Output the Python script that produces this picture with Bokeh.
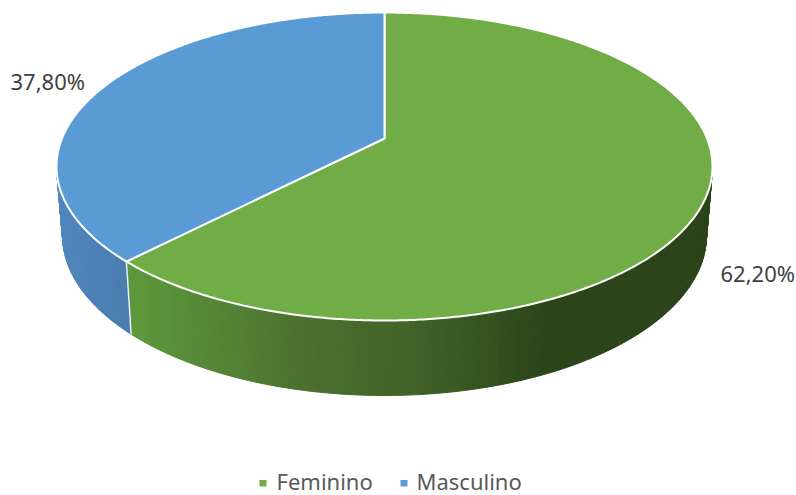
import numpy as np
from bokeh.plotting import figure
from bokeh.models import Range1d
from bokeh.core.properties import value
from bokeh.embed import file_html
from bokeh.resources import INLINE

# data
categories = ["Feminino", "Masculino"]
shares = [62.20, 37.80]
share_labels = ["62,20%", "37,80%"]

# style
top_colors = ["#70AD47", "#5B9BD5"]
text_color = "#404040"
legend_color = "#595959"
wall_stops_x = [[132, 230, 300, 400, 470, 540], [56, 125]]
wall_stops_rgb = [
    [(93, 152, 60), (84, 130, 52), (75, 113, 47), (66, 101, 40), (56, 86, 33), (44, 68, 26)],
    [(80, 135, 190), (74, 125, 176)],
]
label_xy = [(720, 272.5), (10, 80)]
legend_marks = [(259, 479.5, 266, 486), (400, 479.5, 407, 486)]
legend_text_xy = [(276, 480), (416, 480)]

# geometry of the tilted pie, in page pixels
cx, cy, rx, ry = 384.0, 166.0, 328.0, 154.0
apex_y = 138.0
perspective = 0.2
bx, by, brx, bry = 384.0, 235.0, 322.0, 160.0


def split_param(frac):
    """Clockwise angle on the rim reached by a share, seen in perspective."""
    a = 2 * np.pi * frac
    d = np.array([np.sin(a), np.cos(a)])
    p = np.array([0.0, perspective])
    b = p @ d
    t = -b + np.sqrt(b * b - (p @ p - 1))
    q = p + t * d
    return np.arctan2(q[0], q[1]) % (2 * np.pi)


def top_pt(t):
    return cx + rx * np.sin(t), cy - ry * np.cos(t)


def bot_pt(t):
    return bx + brx * np.sin(t), by - bry * np.cos(t)


p = figure(width=796, height=495, output_backend="svg", toolbar_location=None,
           x_range=Range1d(0, 796), y_range=Range1d(495, 0), min_border=0,
           outline_line_color=None, background_fill_color="white", border_fill_color="white")
p.axis.visible = False
p.grid.visible = False

t_split = split_param(shares[0] / sum(shares))
ranges = [(0.0, t_split), (t_split, 2 * np.pi)]

# walls (front half of the rim only)
for i, (t0, t1) in enumerate(ranges):
    lo, hi = max(t0, np.pi / 2), min(t1, 3 * np.pi / 2)
    ts = np.linspace(lo, hi, int((hi - lo) * 60) + 2)
    xs, ys, cols = [], [], []
    for a, b in zip(ts[:-1], ts[1:]):
        xa, ya = top_pt(a); xb, yb = top_pt(b)
        xc, yc = bot_pt(b); xd, yd = bot_pt(a)
        xs.append([xa, xb, xc, xd]); ys.append([ya, yb, yc, yd])
        xm = (xc + xd) / 2
        rgb = [np.interp(xm, wall_stops_x[i], [s[k] for s in wall_stops_rgb[i]]) for k in range(3)]
        cols.append("#%02x%02x%02x" % tuple(int(round(v)) for v in rgb))
    p.patches(xs, ys, fill_color=cols, line_color=cols, line_width=1, line_join="round")

# white edge of the split on the wall
sx0, sy0 = top_pt(t_split)
sx1, sy1 = bot_pt(t_split)
p.line([sx0, sx1], [sy0, sy1], line_color="#E8EEF2", line_width=1.5)

# top faces
for i, (t0, t1) in enumerate(ranges):
    ts = np.linspace(t0, t1, 400)
    xs, ys = top_pt(ts)
    p.patch(np.r_[cx, xs], np.r_[apex_y, ys], fill_color=top_colors[i],
            line_color="white", line_width=2, line_join="round")

# share labels
for (x, y), s in zip(label_xy, share_labels):
    p.text([x], [y], text=[s], text_font=value("Noto Sans"), text_font_size="22px",
           text_color=text_color, text_align="left", text_baseline="middle")

# legend
for (x0, y0, x1, y1), (tx, ty), c, col in zip(legend_marks, legend_text_xy, categories, top_colors):
    p.quad(left=[x0], right=[x1], top=[y0], bottom=[y1], fill_color=col, line_color=None)
    p.text([tx], [ty], text=[c], text_font=value("Noto Sans"), text_font_size="22px",
           text_color=legend_color, text_align="left", text_baseline="middle")

open("out.html", "w").write(file_html(p, INLINE))
